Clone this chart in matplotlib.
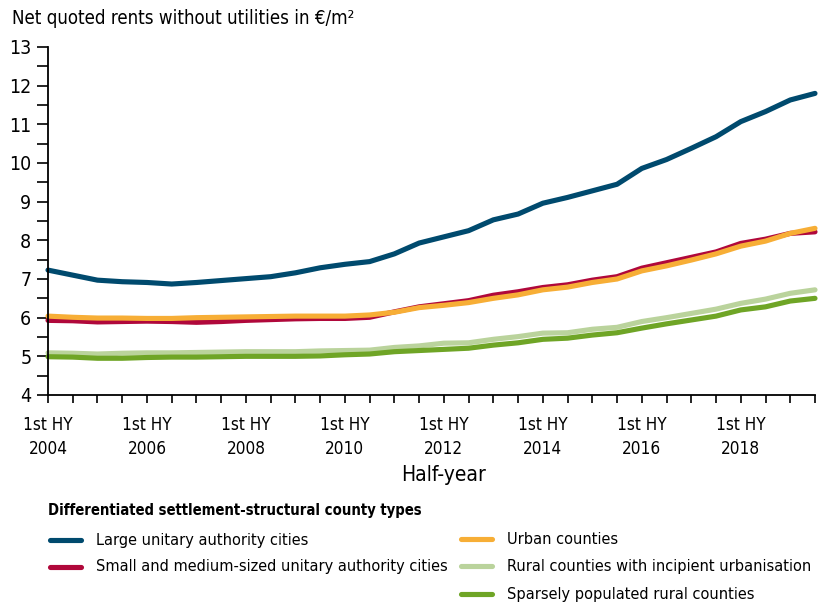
import matplotlib
matplotlib.use("Agg")
import matplotlib.pyplot as plt
from matplotlib.lines import Line2D
from matplotlib.ticker import MultipleLocator

FONT = 'DejaVu Sans'
STRETCH = 'condensed'

half_years = list(range(32))  # 1st HY 2004 ... 2nd HY 2019
tick_labels = ['1st HY\n2004', '1st HY\n2006', '1st HY\n2008', '1st HY\n2010',
               '1st HY\n2012', '1st HY\n2014', '1st HY\n2016', '1st HY\n2018']

large_cities = [7.23, 7.10, 6.97, 6.93, 6.91, 6.87, 6.91, 6.96, 7.01, 7.06,
                7.16, 7.29, 7.38, 7.45, 7.65, 7.93, 8.09, 8.25, 8.53, 8.68,
                8.96, 9.11, 9.28, 9.45, 9.86, 10.09, 10.38, 10.68, 11.07, 11.33,
                11.63, 11.80]
small_cities = [5.93, 5.92, 5.89, 5.90, 5.91, 5.90, 5.88, 5.90, 5.93, 5.95,
                5.97, 5.98, 5.98, 6.01, 6.15, 6.28, 6.36, 6.44, 6.58, 6.67,
                6.78, 6.85, 6.97, 7.06, 7.28, 7.42, 7.56, 7.70, 7.92, 8.03,
                8.18, 8.22]
urban_counties = [6.04, 6.01, 5.99, 5.99, 5.98, 5.98, 6.00, 6.01, 6.02, 6.03,
                  6.04, 6.04, 6.04, 6.07, 6.14, 6.26, 6.32, 6.39, 6.50, 6.59,
                  6.72, 6.79, 6.91, 7.00, 7.21, 7.34, 7.49, 7.65, 7.85, 7.98,
                  8.18, 8.31]
rural_incipient = [5.09, 5.08, 5.06, 5.08, 5.09, 5.09, 5.10, 5.11, 5.12, 5.12,
                   5.12, 5.14, 5.15, 5.16, 5.23, 5.27, 5.34, 5.35, 5.44, 5.51,
                   5.60, 5.61, 5.70, 5.75, 5.90, 6.00, 6.11, 6.22, 6.37, 6.48,
                   6.63, 6.72]
sparse_rural = [4.99, 4.98, 4.95, 4.95, 4.97, 4.98, 4.98, 4.99, 5.00, 5.00,
                5.00, 5.01, 5.04, 5.06, 5.12, 5.15, 5.18, 5.21, 5.29, 5.35,
                5.44, 5.47, 5.55, 5.61, 5.73, 5.84, 5.94, 6.04, 6.20, 6.28,
                6.43, 6.50]

series = [
    ('Large unitary authority cities', large_cities, '#004a6e'),
    ('Small and medium-sized unitary authority cities', small_cities, '#b0083b'),
    ('Urban counties', urban_counties, '#f7ae36'),
    ('Rural counties with incipient urbanisation', rural_incipient, '#bad39c'),
    ('Sparsely populated rural counties', sparse_rural, '#6fa526'),
]

plt.rcParams['font.family'] = [FONT]
plt.rcParams['font.stretch'] = STRETCH

W, H = 827, 607
fig = plt.figure(figsize=(W/100, H/100), dpi=100)
ax = fig.add_axes([48/W, 1-395/H, (815-48)/W, (395-47)/H])

LW = 3.7
for name, vals, col in series:
    ax.plot(half_years, vals, color=col, lw=LW, solid_capstyle='round',
            solid_joinstyle='round', clip_on=False)

ax.set_xlim(0, 31)
ax.set_ylim(4, 13)
for s in ['top', 'right']:
    ax.spines[s].set_visible(False)
for s in ['left', 'bottom']:
    ax.spines[s].set_linewidth(1.3)
ax.yaxis.set_major_locator(MultipleLocator(1))
ax.yaxis.set_minor_locator(MultipleLocator(0.5))
ax.set_xticks(half_years, minor=True)
ax.set_xticks(half_years[::4])
ax.set_xticklabels(tick_labels, fontsize=12.3, linespacing=1.45)
ax.tick_params(axis='y', which='both', length=8, width=1.2, labelsize=14, pad=4)
ax.tick_params(axis='x', which='both', length=6, width=1.2, pad=9)
ax.set_xlabel('Half-year', fontsize=15)
ax.xaxis.set_label_coords((443-48)/(815-48), -(475-395)/(395-47))
ax.xaxis.label.set_va('center')

fig.text(12/W, 1-18/H, 'Net quoted rents without utilities in €/m²', fontsize=13.4,
         va='center', ha='left')

# legend
fig.text(48/W, 1-510/H, 'Differentiated settlement-structural county types',
         fontsize=10.6, fontweight='bold', va='center', ha='left')
pos = [(48, 540), (48, 567), (459, 539), (459, 566), (459, 594)]
for (name, vals, col), (lx, ly) in zip(series, pos):
    fig.add_artist(Line2D([(lx + 2)/W, (lx + 33)/W], [1-ly/H, 1-ly/H], color=col,
                          lw=LW, solid_capstyle='round'))
    fig.text((lx + 48)/W, 1-ly/H, name, fontsize=11.7, va='center', ha='left')

fig.savefig('out.png', dpi=100)
